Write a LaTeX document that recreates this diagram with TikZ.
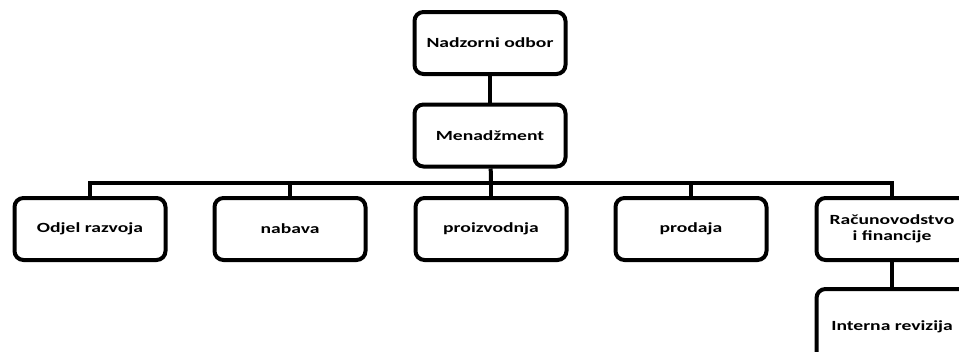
\documentclass[tikz,border=0pt]{standalone}
\usepackage{fontspec}
\setmainfont{Carlito}[FakeStretch=1.4]
\tikzset{
  unit/.style={draw, line width=4pt, rounded corners=9pt, minimum width=151pt,
    minimum height=62pt, align=center, font=\fontsize{14}{16}\selectfont\bfseries},
  link/.style={line width=4pt}
}
\begin{document}
\begin{tikzpicture}[x=1pt,y=-1pt]
\useasboundingbox (0,0) rectangle (959,351);
\node[unit] at (490, 43) (nadzor) {Nadzorni odbor};
\node[unit] at (490, 135.5) (menadz) {Menad\v{z}ment};
\node[unit] at (90, 229) (razvoj) {Odjel razvoja};
\node[unit] at (290, 229) (nabava) {nabava};
\node[unit] at (491, 229) (proizv) {proizvodnja};
\node[unit] at (691, 229) (prodaja) {prodaja};
\node[unit] at (892, 229) (racun) {Ra\v{c}unovodstvo\\i financije};
\node[unit, minimum height=76pt] at (892, 327) (revizija) {Interna revizija};
\coordinate (bus) at (491, 183);
\draw[link] (nadzor) -- (menadz);
\draw[link] (menadz) -- (bus);
\draw[link] (bus) -| (razvoj.north);
\draw[link] (bus) -| (nabava.north);
\draw[link] (bus) -- (proizv);
\draw[link] (bus) -| (prodaja.north);
\draw[link] (bus) -| (racun.north);
\draw[link] (racun) -- (revizija);
\end{tikzpicture}
\end{document}
